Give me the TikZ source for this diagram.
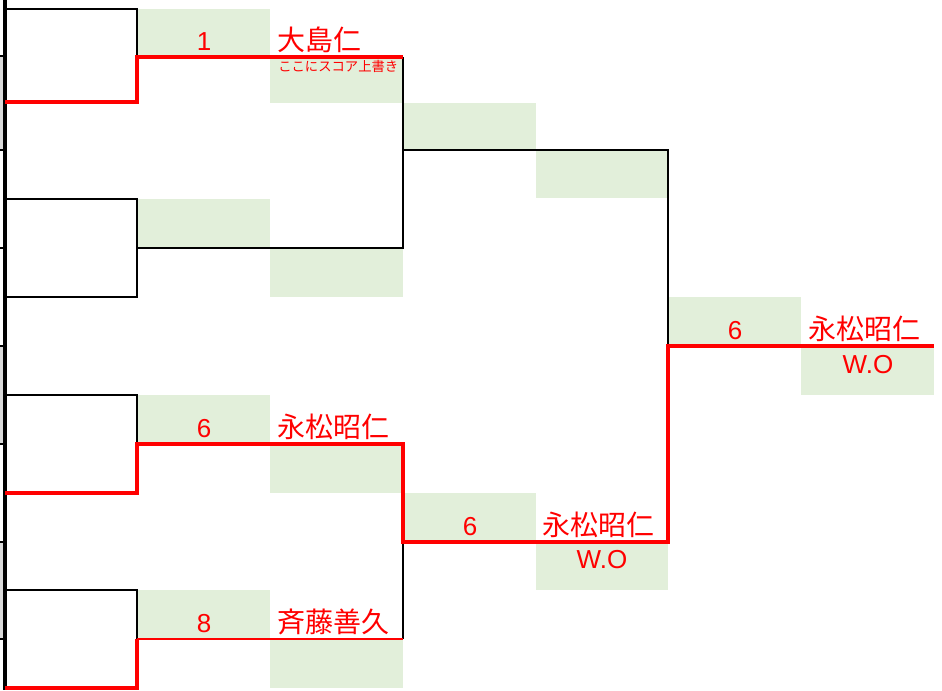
\documentclass[tikz,border=0pt]{standalone}
\usepackage{fontspec}
\setmainfont{Liberation Sans}
\newfontfamily\jp{Noto Sans CJK JP}
\definecolor{cellgreen}{HTML}{E2EFDA}
\tikzset{
  cell/.style={fill=cellgreen},
  bline/.style={black, line width=0.8pt},
  win/.style={red, line width=2.3pt},
  player/.style={red, anchor=base west, inner sep=0pt, font=\jp\fontsize{21}{21}\selectfont},
  score/.style={red, anchor=base, inner sep=0pt, font=\fontsize{19.5}{19.5}\selectfont},
  memo/.style={red, anchor=base west, inner sep=0pt, font=\jp\fontsize{10}{10}\selectfont}
}
\begin{document}
\begin{tikzpicture}[x=0.75pt,y=-0.75pt]
\useasboundingbox (0,0) rectangle (942,690);

\fill[cell] (137,9) rectangle (270,57);
\fill[cell] (270,57) rectangle (403,103);
\fill[cell] (137,199) rectangle (270,248);
\fill[cell] (270,248) rectangle (403,297);
\fill[cell] (403,103) rectangle (536,150);
\fill[cell] (536,150) rectangle (668,198);
\fill[cell] (137,395) rectangle (270,444);
\fill[cell] (270,444) rectangle (403,493);
\fill[cell] (137,590) rectangle (270,639);
\fill[cell] (270,639) rectangle (403,688);
\fill[cell] (403,493) rectangle (536,542);
\fill[cell] (536,542) rectangle (668,590);
\fill[cell] (668,297) rectangle (801,346);
\fill[cell] (801,346) rectangle (934,395);

\fill[gray!30] (0,56) rectangle (4,150);
\fill[gray!30] (0,346) rectangle (4,444);
\fill[gray!30] (0,542) rectangle (4,639);
\draw[black, line width=2.6pt] (5,0) -- (5,690);
\foreach \y in {56,150,248,346,444,542,639}
  \draw[black, line width=2pt] (0,\y) -- (6,\y);

\draw[bline] (5,9) -- (137,9) -- (137,57);
\draw[bline] (5,199) -- (137,199) -- (137,297) -- (5,297);
\draw[bline] (137,248) -- (403,248) -- (403,57);
\draw[bline] (403,150) -- (668,150) -- (668,346);
\draw[bline] (5,395) -- (137,395) -- (137,444);
\draw[bline] (5,590) -- (137,590) -- (137,639);
\draw[bline] (403,542) -- (403,639);

\draw[win] (5,102) -- (137,102) -- (137,57) -- (403,57);
\draw[win] (5,493) -- (137,493) -- (137,444) -- (403,444) -- (403,542) -- (668,542) -- (668,346) -- (934,346);
\draw[win] (5,688) -- (137,688) -- (137,639);
\draw[red, line width=1.1pt] (137,639) -- (403,639);

\node[score] (s1) at (204,50) {1};
\node[player] (p1) at (277,50) {大島仁};
\node[memo] (m1) at (278,71) {ここにスコア上書き};

\node[score] (s3) at (204,437) {6};
\node[player] (p3) at (277,437) {永松昭仁};
\node[score] (s4) at (204,632) {8};
\node[player] (p4) at (277,632) {斉藤善久};

\node[score] (s5) at (470,535) {6};
\node[player] (p5) at (542,535) {永松昭仁};
\node[score] (w5) at (602,568) {W.O};

\node[score] (s6) at (735,339) {6};
\node[player] (p6) at (808,339) {永松昭仁};
\node[score] (w6) at (868,373) {W.O};
\end{tikzpicture}
\end{document}
